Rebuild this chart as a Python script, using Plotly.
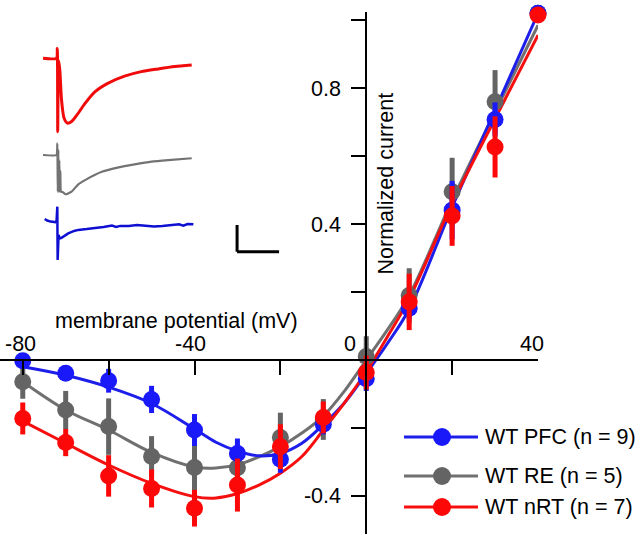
import plotly.graph_objects as go

# ---------------- data ----------------
voltages = [-80, -70, -60, -50, -40, -30, -20, -10, 0, 10, 20, 30, 40]
pfc_mean = [-0.002, -0.039, -0.061, -0.116, -0.206, -0.275, -0.292, -0.189, -0.055, 0.152, 0.441, 0.708, 1.02]
pfc_err = [0.01, 0.01, 0.035, 0.04, 0.047, 0.044, 0.04, 0.03, 0.036, 0.03, 0.086, 0.05, 0.0]
re_mean = [-0.064, -0.147, -0.196, -0.284, -0.316, -0.317, -0.228, -0.175, 0.01, 0.19, 0.495, 0.76, 1.02]
re_err = [0.05, 0.056, 0.083, 0.06, 0.086, 0.035, 0.073, 0.06, 0.06, 0.08, 0.1, 0.093, 0.0]
nrt_mean = [-0.172, -0.243, -0.341, -0.378, -0.436, -0.368, -0.255, -0.169, -0.037, 0.171, 0.424, 0.627, 1.015]
nrt_err = [0.047, 0.04, 0.061, 0.056, 0.054, 0.078, 0.066, 0.047, 0.05, 0.083, 0.088, 0.09, 0.0]

fit_v = [-80, -70, -60, -50, -40, -35, -30, -25, -20, -15, -10, -5, 0, 5, 10, 20, 30, 40]
pfc_fit = [-0.02, -0.045, -0.08, -0.128, -0.203, -0.242, -0.268, -0.282, -0.275, -0.245, -0.19, -0.125, -0.04, 0.05, 0.15, 0.45, 0.735, 1.02]
re_fit = [-0.064, -0.147, -0.206, -0.272, -0.315, -0.318, -0.308, -0.285, -0.255, -0.215, -0.165, -0.09, 0.0, 0.09, 0.19, 0.47, 0.73, 0.985]
nrt_fit = [-0.18, -0.245, -0.309, -0.363, -0.402, -0.406, -0.393, -0.368, -0.333, -0.284, -0.206, -0.125, -0.034, 0.07, 0.18, 0.46, 0.71, 0.956]

series_names = ["WT PFC (n = 9)", "WT RE (n = 5)", "WT nRT (n = 7)"]

x_tick_vals = [-80, -60, -40, -20, 0, 20, 40]
x_label_vals = [-80, -40, 0, 40]
x_label_text = ["-80", "-40", "0", "40"]
y_tick_vals = [-0.4, -0.2, 0, 0.2, 0.4, 0.6, 0.8, 1.0]
y_tick_text = ["-0.4", "", "", "", "0.4", "", "0.8", ""]

# inset example currents (time in ms, current in pA)
red_t = [-17, -1, 0, 0.5, 1.5, 3, 5, 8, 12, 17, 23, 33, 45, 60, 80, 100, 120, 140, 160]
red_i = [0, 0, 37, -275, -8, -44, -156, -224, -243, -237, -214, -169, -125, -94, -67, -50, -40, -31, -25]
gray_t = [-17, -1, 0, 0.6, 1.2, 1.8, 2.4, 3.0, 3.6, 4.4, 7, 10, 17, 25, 33, 53, 73, 92, 112, 132, 160]
gray_i = [0, 0, 44, -137, 20, -137, -20, -137, -60, -137, -140, -147, -137, -110, -94, -63, -46, -35, -25, -19, -12]
blue_t = [-15, -12, -8, -4, -1, 0, 0.4, 1.5, 3, 5, 8, 13, 20, 25, 35, 45, 55, 65, 70, 75, 85, 95, 105, 115, 125, 135, 145, 150, 155, 162]
blue_i = [4, -2, -6, -7.5, -8.6, 50, -150, -56, -69, -67, -60, -50, -41, -37, -34, -31, -26, -21, -26, -22, -22, -19, -21, -24, -22, -19, -16, -21, -15, -16]

scale_bar_ms = 50
scale_bar_pa = 100

# ---------------- styles ----------------
FONT = "Liberation Sans, Arial, sans-serif"
FS = 21.5
colors_marker = ["rgb(25,25,250)", "rgb(100,100,100)", "rgb(252,8,8)"]
colors_line = ["rgb(30,30,235)", "rgb(112,112,112)", "rgb(245,15,15)"]

fig = go.Figure()

means = [pfc_mean, re_mean, nrt_mean]
errs = [pfc_err, re_err, nrt_err]
fits = [pfc_fit, re_fit, nrt_fit]

# fit curves (gray, blue, red)
for k in [1, 0, 2]:
    fig.add_trace(go.Scatter(
        x=fit_v, y=fits[k], mode="lines",
        line=dict(color=colors_line[k], width=3, shape="spline", smoothing=1.0),
        showlegend=False, hoverinfo="skip", cliponaxis=False))

# data points with error bars
for k in [1, 0, 2]:
    fig.add_trace(go.Scatter(
        x=voltages, y=means[k], mode="markers",
        marker=dict(color=colors_marker[k], size=17, line=dict(width=0)),
        error_y=dict(type="data", array=errs[k], thickness=5, width=0,
                     color=colors_marker[k]),
        name=series_names[k], showlegend=False, cliponaxis=False))

# inset traces on their own small axes
fig.add_trace(go.Scatter(x=red_t, y=red_i, xaxis="x2", yaxis="y2", mode="lines",
                         line=dict(color="rgb(240,10,10)", width=3, shape="spline", smoothing=0.6),
                         showlegend=False, hoverinfo="skip"))
fig.add_trace(go.Scatter(x=gray_t, y=gray_i, xaxis="x2", yaxis="y3", mode="lines",
                         line=dict(color="rgb(115,115,115)", width=2.2, shape="spline", smoothing=0.4),
                         showlegend=False, hoverinfo="skip"))
fig.add_trace(go.Scatter(x=blue_t, y=blue_i, xaxis="x2", yaxis="y4", mode="lines",
                         line=dict(color="rgb(15,15,210)", width=2.5),
                         showlegend=False, hoverinfo="skip"))

# ---------------- layout ----------------
x_range = [-85.3, 40]
y_range = [-0.512, 1.024]
x_axis_pos = (0 - y_range[0]) / (y_range[1] - y_range[0])
y_axis_pos = (0 - x_range[0]) / (x_range[1] - x_range[0])

shapes = []
annotations = []

# scale bar (in blue inset axes)
sb_t0, sb_i0 = 214, -119
shapes.append(dict(type="line", xref="x2", yref="y4", x0=sb_t0, x1=sb_t0,
                   y0=sb_i0, y1=sb_i0 + scale_bar_pa, line=dict(color="black", width=3)))
shapes.append(dict(type="line", xref="x2", yref="y4", x0=sb_t0, x1=sb_t0 + scale_bar_ms,
                   y0=sb_i0, y1=sb_i0, line=dict(color="black", width=3)))

# x tick labels above the axis
label_shift = [-2, -4, -16, -6]
for v, t, s in zip(x_label_vals, x_label_text, label_shift):
    annotations.append(dict(x=v, y=0, xref="x", yref="y", text=t, showarrow=False,
                            xshift=s, yshift=16, xanchor="center", yanchor="middle",
                            font=dict(family=FONT, size=FS, color="black")))

# axis titles
annotations.append(dict(x=176 / 538, y=0, xref="paper", yref="y", text="membrane potential (mV)",
                        showarrow=False, yshift=39, xanchor="center", yanchor="middle",
                        font=dict(family=FONT, size=FS, color="black")))
annotations.append(dict(x=385 / 538, y=(534 - 183.5) / 522, xref="paper", yref="paper",
                        text="Normalized current", textangle=-90, showarrow=False,
                        xanchor="center", yanchor="middle",
                        font=dict(family=FONT, size=FS, color="black")))

# custom legend
leg_py = [437, 476, 507]
for k in range(3):
    py = (534 - leg_py[k]) / 522
    shapes.append(dict(type="line", xref="paper", yref="paper", x0=404 / 538, x1=478 / 538,
                       y0=py, y1=py, line=dict(color=colors_line[k], width=3)))
    shapes.append(dict(type="circle", xref="paper", yref="paper",
                       xsizemode="pixel", ysizemode="pixel",
                       xanchor=442 / 538, yanchor=py, x0=-9, x1=9, y0=-9, y1=9,
                       fillcolor=colors_marker[k], line=dict(width=0)))
    annotations.append(dict(x=483 / 538, y=py, xref="paper", yref="paper",
                            text=series_names[k], showarrow=False, xanchor="left",
                            yanchor="middle",
                            font=dict(family=FONT, size=FS, color="black")))

inset_axis = dict(visible=False, showgrid=False, zeroline=False, fixedrange=True)
fig.update_layout(
    width=644, height=534, autosize=False,
    margin=dict(l=0, r=106, t=12, b=0, pad=0),
    paper_bgcolor="white", plot_bgcolor="rgba(0,0,0,0)",
    font=dict(family=FONT, size=FS, color="black"),
    showlegend=False,
    xaxis=dict(range=x_range, anchor="free", position=x_axis_pos, side="top",
               showline=True, linecolor="black", linewidth=2,
               ticks="inside", ticklen=14, tickwidth=2, tickcolor="black",
               tickvals=x_tick_vals, showticklabels=False,
               showgrid=False, zeroline=False),
    yaxis=dict(range=y_range, anchor="free", position=y_axis_pos, side="left",
               showline=True, linecolor="black", linewidth=2,
               ticks="outside", ticklen=14, tickwidth=2, tickcolor="black",
               tickvals=y_tick_vals, ticktext=y_tick_text,
               ticklabelstandoff=6,
               tickfont=dict(family=FONT, size=FS, color="black"),
               showgrid=False, zeroline=False),
    xaxis2=dict(inset_axis, domain=[0.0753, 0.5281], range=[-20, 270], anchor="y2"),
    yaxis2=dict(inset_axis, domain=[0.7579, 0.9420], range=[-300, 60], anchor="x2"),
    yaxis3=dict(inset_axis, domain=[0.5726, 0.7567], range=[-300, 60], anchor="x2"),
    yaxis4=dict(inset_axis, domain=[0.4481, 0.6322], range=[-300, 60], anchor="x2"),
    shapes=shapes,
    annotations=annotations,
)

fig.write_html("out.html", config={"displayModeBar": False},
               post_script="document.body.style.margin='0';document.body.style.overflow='hidden';")
